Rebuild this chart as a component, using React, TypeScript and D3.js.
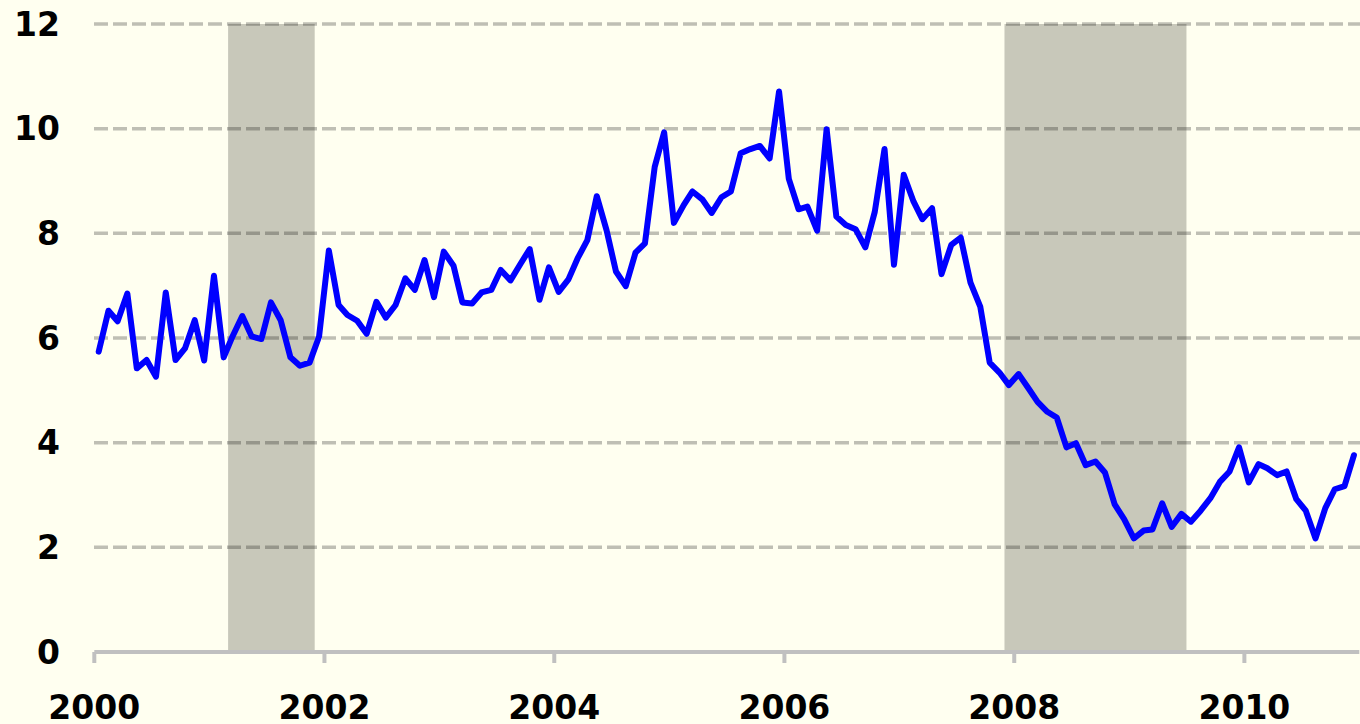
import * as d3 from 'd3';

// monthly values, Jan..Dec
const v2000 = [5.74, 6.52, 6.32, 6.85, 5.42, 5.58, 5.26, 6.87, 5.58, 5.80, 6.34, 5.57]
const v2001 = [7.19, 5.63, 6.03, 6.42, 6.03, 5.98, 6.68, 6.34, 5.63, 5.47, 5.53, 6.03]
const v2002 = [7.67, 6.63, 6.44, 6.33, 6.08, 6.69, 6.39, 6.63, 7.14, 6.92, 7.49, 6.78]
const v2003 = [7.65, 7.38, 6.68, 6.66, 6.87, 6.92, 7.30, 7.10, 7.41, 7.70, 6.73, 7.35]
const v2004 = [6.88, 7.12, 7.52, 7.87, 8.71, 8.06, 7.27, 6.99, 7.63, 7.81, 9.27, 9.93]
const v2005 = [8.20, 8.54, 8.80, 8.65, 8.39, 8.69, 8.80, 9.53, 9.61, 9.67, 9.43, 10.71]
const v2006 = [9.04, 8.46, 8.51, 8.05, 9.99, 8.32, 8.16, 8.08, 7.73, 8.41, 9.61, 7.40]
const v2007 = [9.12, 8.61, 8.27, 8.48, 7.22, 7.78, 7.92, 7.06, 6.60, 5.53, 5.34, 5.10]
const v2008 = [5.31, 5.04, 4.78, 4.59, 4.48, 3.91, 3.99, 3.57, 3.64, 3.43, 2.82, 2.54]
const v2009 = [2.17, 2.32, 2.34, 2.84, 2.39, 2.64, 2.49, 2.70, 2.94, 3.25, 3.45, 3.91]
const v2010 = [3.24, 3.59, 3.51, 3.38, 3.45, 2.92, 2.70, 2.17, 2.75, 3.11, 3.17, 3.76]

const years = [2000, 2001, 2002, 2003, 2004, 2005, 2006, 2007, 2008, 2009, 2010]
const yearValues = [v2000, v2001, v2002, v2003, v2004, v2005, v2006, v2007, v2008, v2009, v2010]

// shaded periods (recessions)
const recessionStart = ['2001-03-01', '2007-12-01']
const recessionEnd = ['2001-12-01', '2009-07-01']

const xTickYears = [2000, 2002, 2004, 2006, 2008, 2010]
const yTicks = [0, 2, 4, 6, 8, 10, 12]

interface Point {
    date: Date
    value: number
}

const W = 1360
const H = 724

const App = () => {
    const data: Point[] = []
    years.forEach((yr, i) => {
        yearValues[i].forEach((v, m) => {
            data.push({date: new Date(yr, m, 15), value: v})
        })
    })

    const x = d3.scaleTime()
        .domain([new Date(2000, 0, 1), new Date(2011, 0, 1)])
        .range([94.3, 1359.3])

    const y = d3.scaleLinear()
        .domain([0, 12])
        .range([652, 24])

    const line = d3.line<Point>()
        .x(d => x(d.date))
        .y(d => y(d.value))

    const parse = d3.timeParse('%Y-%m-%d')

    const font = '"DejaVu Sans", Verdana, sans-serif'

    return (
        <svg width={W} height={H} style={{position: 'absolute', left: 0, top: 0, display: 'block'}}>
            <rect x={0} y={0} width={W} height={H} fill="#fffff0" />

            {/* recession bands */}
            {recessionStart.map((s, i) => {
                const x0 = x(parse(s)!)
                const x1 = x(parse(recessionEnd[i])!)
                return <rect key={i} x={x0} y={y(12)} width={x1 - x0} height={y(0) - y(12)} fill="#c8c8ba" />
            })}

            {/* gridlines */}
            {yTicks.filter(t => t > 0).map(t => (
                <line key={t} x1={94} x2={1360} y1={y(t)} y2={y(t)}
                      stroke="rgba(0,0,0,0.25)" strokeWidth={3.5} strokeDasharray="14 5" />
            ))}

            {/* y labels */}
            {yTicks.map(t => (
                <text key={t} x={60} y={y(t)} textAnchor="end" dominantBaseline="central"
                      fontFamily={font} fontWeight="bold" fontSize="33px" fill="#000">{t}</text>
            ))}

            {/* x axis */}
            <line x1={94.3} x2={1359.3} y1={y(0)} y2={y(0)} stroke="#c0c0c0" strokeWidth={4} />
            {xTickYears.map(yr => {
                const px = x(new Date(yr, 0, 1))
                return (
                    <g key={yr}>
                        <line x1={px} x2={px} y1={y(0)} y2={y(0) + 11} stroke="#c0c0c0" strokeWidth={4} />
                        <text x={px} y={719} textAnchor="middle" fontFamily={font} fontWeight="bold"
                              fontSize="33px" fill="#000">{yr}</text>
                    </g>
                )
            })}

            <path d={line(data) ?? ''} fill="none" stroke="#0000ff" strokeWidth={6}
                  strokeLinejoin="round" strokeLinecap="round" />
        </svg>
    )
}

export default App
